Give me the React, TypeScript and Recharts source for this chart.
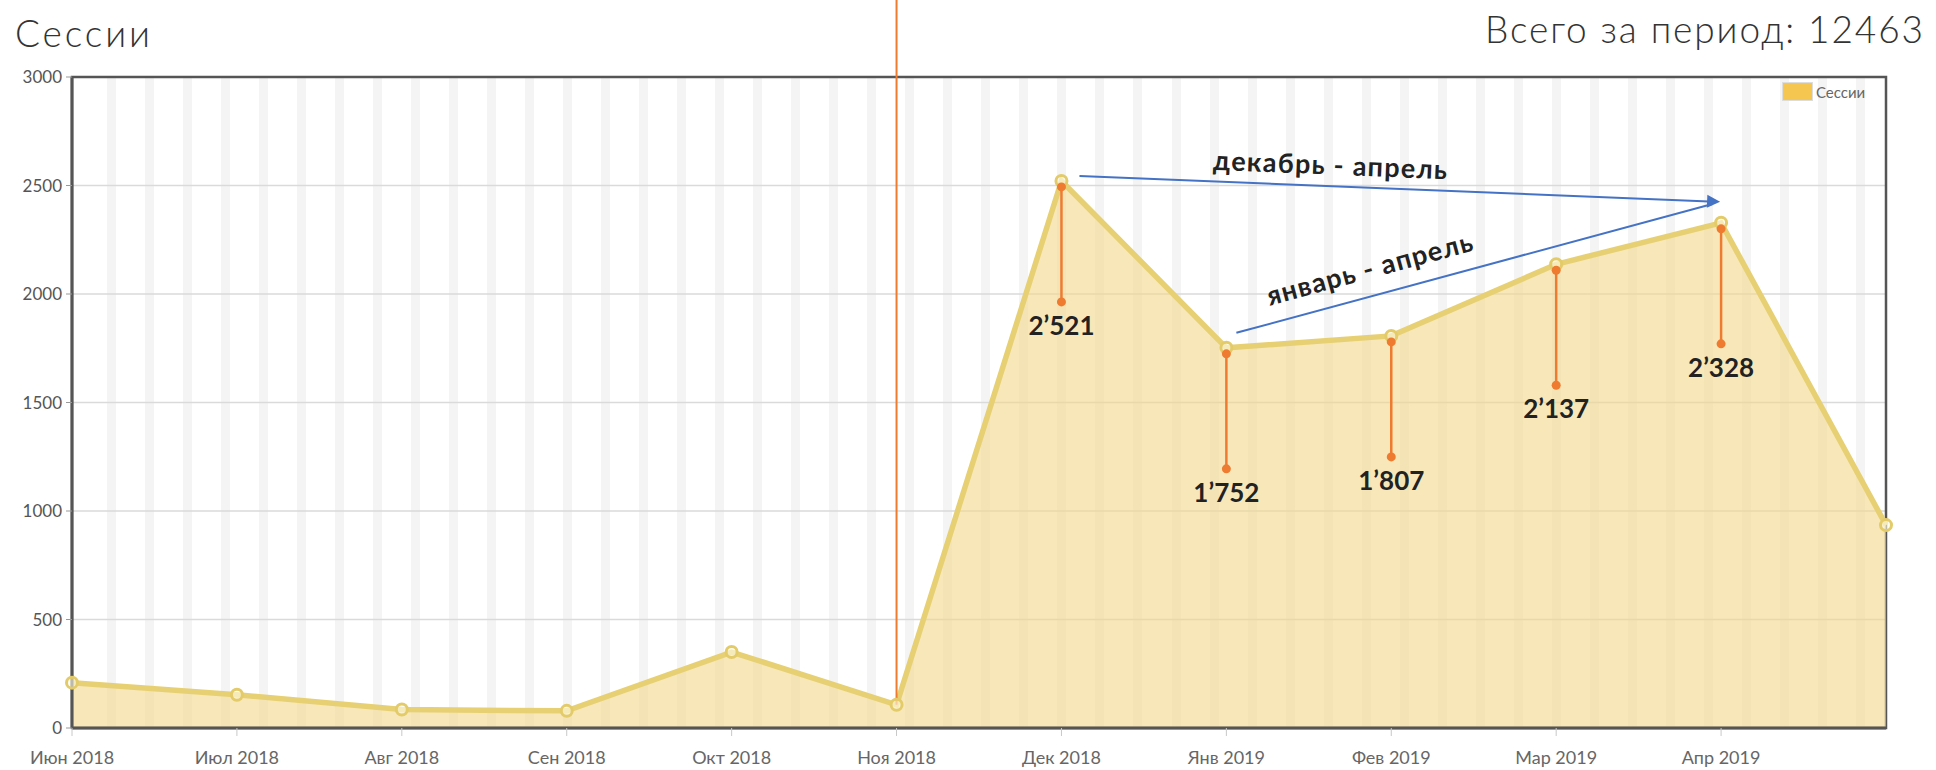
import {
  ComposedChart,
  Area,
  Line,
  XAxis,
  YAxis,
  CartesianGrid,
  ReferenceLine,
  ReferenceArea,
  Legend,
} from 'recharts';

const months = [
  'Июн 2018', 'Июл 2018', 'Авг 2018', 'Сен 2018', 'Окт 2018', 'Ноя 2018',
  'Дек 2018', 'Янв 2019', 'Фев 2019', 'Мар 2019', 'Апр 2019', 'Май 2019',
];
const sessions = [209, 153, 85, 79, 350, 107, 2521, 1752, 1807, 2137, 2328, 935];
const highlighted = ['Дек 2018', 'Янв 2019', 'Фев 2019', 'Мар 2019', 'Апр 2019'];
const yTicks = [0, 500, 1000, 1500, 2000, 2500, 3000];
const xTicks = months.slice(0, 11);

const total = sessions.reduce((a, b) => a + b, 0);

const data = months.map((m, i) => ({
  month: m,
  sessions: sessions[i],
  marked: highlighted.includes(m) ? sessions[i] : null,
}));

const W = 1936;
const H = 770;
const FONT = 'Lato, "Open Sans", "DejaVu Sans", sans-serif';
const ORANGE = '#ee7b30';
const BLUE = '#4472c4';

const fmt = (v: number) => `${Math.floor(v / 1000)}’${String(v % 1000).padStart(3, '0')}`;

// weekly background stripes (period Jun 1 -> May 1 = 334 days)
const stripes = ({ offset }: any) => {
  const left = offset?.left ?? 72;
  const w = offset?.width ?? 1814;
  const week = (w * 7) / 334;
  const pts = [left];
  for (let s = left + 35; s < left + w - 1; s += week) {
    pts.push(s, Math.min(s + 9, left + w));
  }
  return pts;
};

function Stem(props: any) {
  const { cx, cy, value, index } = props;
  if (cx == null || cy == null || value == null) return <g key={`s-${index}`} />;
  return (
    <g key={`s-${index}`}>
      <line x1={cx} y1={cy + 6} x2={cx} y2={cy + 121} stroke={ORANGE} strokeWidth={2.5} />
      <circle cx={cx} cy={cy + 6} r={4.5} fill={ORANGE} />
      <circle cx={cx} cy={cy + 121} r={4.5} fill={ORANGE} />
      <text
        x={cx}
        y={cy + 154}
        textAnchor="middle"
        fontFamily={FONT}
        fontWeight={700}
        fontSize={26}
        fill="#222"
      >
        {fmt(value)}
      </text>
    </g>
  );
}

function Arrow(p: any) {
  const { x1, y1, x2, y2, dx, dy, text, t, lift, head, textWidth } = p;
  if (x1 == null || x2 == null) return <g />;
  const sx = x1 + dx;
  const sy = y1 + dy;
  const tx = x2 - 1;
  const ty = y2 - 21;
  const ang = Math.atan2(ty - sy, tx - sx);
  const ex = tx - Math.cos(ang) * (head ? 11 : 8);
  const ey = ty - Math.sin(ang) * (head ? 11 : 8);
  const cx = sx + t * (tx - sx) + Math.sin(ang) * lift;
  const cy = sy + t * (ty - sy) - Math.cos(ang) * lift;
  const deg = (ang * 180) / Math.PI;
  const hx = tx - Math.cos(ang) * 13;
  const hy = ty - Math.sin(ang) * 13;
  const nx = -Math.sin(ang) * 6.5;
  const ny = Math.cos(ang) * 6.5;
  return (
    <g>
      <line x1={sx} y1={sy} x2={ex} y2={ey} stroke={BLUE} strokeWidth={2} />
      {head && (
        <polygon points={`${tx},${ty} ${hx + nx},${hy + ny} ${hx - nx},${hy - ny}`} fill={BLUE} />
      )}
      <text
        x={cx}
        y={cy}
        transform={`rotate(${deg} ${cx} ${cy})`}
        textAnchor="middle"
        dominantBaseline="central"
        fontFamily={FONT}
        fontWeight={700}
        fontSize={27}
        fill="#222"
        textLength={textWidth}
        lengthAdjust="spacing"
      >
        {text}
      </text>
    </g>
  );
}

function LegendBox({ payload }: any) {
  const items = (payload || []).filter((e: any) => e.type !== 'none');
  return (
    <div style={{ display: 'flex', alignItems: 'center', fontFamily: FONT }}>
      {items.map((e: any) => (
        <div key={e.value} style={{ display: 'flex', alignItems: 'center' }}>
          <span
            style={{
              display: 'inline-block',
              width: 29,
              height: 17,
              background: '#f5c650',
              border: '1px solid #ddd',
              marginRight: 3,
            }}
          />
          <span style={{ fontSize: 15, color: '#666' }}>{e.value}</span>
        </div>
      ))}
    </div>
  );
}

export default function App() {
  return (
    <div style={{ position: 'absolute', left: 0, top: 0, width: W, height: H, background: '#fff' }}>
      <ComposedChart width={W} height={H} data={data} margin={{ top: 77, right: 50, bottom: 0, left: 0 }}>
        <CartesianGrid
          horizontal={false}
          vertical
          stroke="none"
          verticalCoordinatesGenerator={stripes}
          verticalFill={['#ffffff', '#f4f4f4']}
        />
        <CartesianGrid vertical={false} stroke="#dadada" strokeWidth={1.5} />
        <XAxis
          dataKey="month"
          scale="point"
          ticks={xTicks}
          interval={0}
          height={42}
          tickSize={8}
          tickMargin={15}
          axisLine={{ stroke: '#555', strokeWidth: 3 }}
          tickLine={{ stroke: '#c8c8c8' }}
          tick={{ fontSize: 18, fill: '#666', fontFamily: FONT }}
        />
        <YAxis
          domain={[0, 3000]}
          ticks={yTicks}
          interval={0}
          width={72}
          tickSize={6}
          tickMargin={4}
          axisLine={{ stroke: '#555', strokeWidth: 3 }}
          tickLine={{ stroke: '#999' }}
          tick={{ fontSize: 17, fill: '#555', fontFamily: FONT }}
        />
        <ReferenceArea
          x1={months[0]}
          x2={months[months.length - 1]}
          y1={0}
          y2={3000}
          fill="none"
          stroke="#555"
          strokeWidth={2.5}
          ifOverflow="visible"
        />
        <Area
          type="linear"
          dataKey="sessions"
          name="Сессии"
          stroke="#e7d073"
          strokeWidth={5.5}
          fill="#f3d98a"
          fillOpacity={0.6}
          dot={{ r: 5.5, fill: '#fffbe8', stroke: '#e3cb6a', strokeWidth: 3 }}
          activeDot={false}
          isAnimationActive={false}
        />
        <ReferenceLine
          segment={[
            { x: 'Ноя 2018', y: sessions[5] },
            { x: 'Ноя 2018', y: 3400 },
          ]}
          stroke={ORANGE}
          strokeWidth={2}
          ifOverflow="visible"
        />
        <Line
          dataKey="marked"
          stroke="none"
          legendType="none"
          dot={Stem}
          activeDot={false}
          isAnimationActive={false}
        />
        <ReferenceLine
          segment={[
            { x: 'Дек 2018', y: sessions[6] },
            { x: 'Апр 2019', y: sessions[10] },
          ]}
          ifOverflow="visible"
          shape={(p: any) => (
            <Arrow {...p} dx={18} dy={-5} text="декабрь - апрель" t={0.39} lift={22} head textWidth={234} />
          )}
        />
        <ReferenceLine
          segment={[
            { x: 'Янв 2019', y: sessions[7] },
            { x: 'Апр 2019', y: sessions[10] },
          ]}
          ifOverflow="visible"
          shape={(p: any) => (
            <Arrow {...p} dx={10} dy={-15} text="январь - апрель" t={0.29} lift={28} head={false} textWidth={212} />
          )}
        />
        <Legend
          layout="vertical"
          align="center"
          verticalAlign="middle"
          wrapperStyle={{ top: 82, left: 1782, width: 'auto', height: 'auto' }}
          content={LegendBox}
        />
      </ComposedChart>
      <svg
        width={W}
        height={H}
        style={{ position: 'absolute', left: 0, top: 0, pointerEvents: 'none' }}
      >
        <text x={15} y={47} fontFamily={FONT} fontWeight={300} fontSize={37} fill="#333" textLength={135} lengthAdjust="spacing">
          Сессии
        </text>
        <text
          x={1923}
          y={43}
          textAnchor="end"
          fontFamily={FONT}
          fontWeight={300}
          fontSize={37}
          fill="#333"
          textLength={438}
          lengthAdjust="spacing"
        >
          {`Всего за период: ${total}`}
        </text>
      </svg>
    </div>
  );
}
